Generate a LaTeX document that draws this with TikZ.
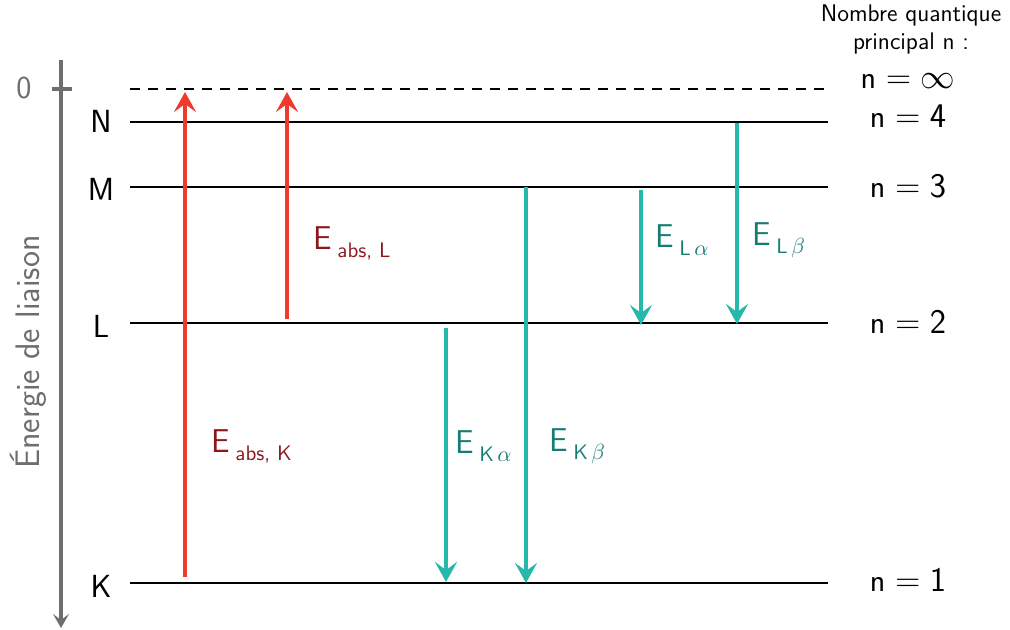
\documentclass[tikz,border=0pt]{standalone}
\usetikzlibrary{arrows.meta}
\renewcommand{\familydefault}{\sfdefault}
\definecolor{absred}{RGB}{239,59,44}
\definecolor{absdark}{RGB}{140,24,30}
\definecolor{emteal}{RGB}{38,184,170}
\definecolor{emdark}{RGB}{22,125,115}
\definecolor{axgray}{RGB}{110,110,110}
\tikzset{
  level/.style={line width=1.1pt, black},
  lvlname/.style={font=\fontsize{16}{18}\selectfont, anchor=center},
  nlabel/.style={font=\fontsize{16}{18}\selectfont, anchor=center, inner sep=0pt},
  toplab/.style={font=\fontsize{12}{14}\selectfont, anchor=center, inner sep=0pt},
  absarrow/.style={line width=2.3pt, absred, -{Stealth[length=10pt,width=11pt,inset=4pt]}},
  emarrow/.style={line width=2.3pt, emteal, -{Stealth[length=10pt,width=11pt,inset=4pt]}},
  abslab/.style={text=absdark, font=\fontsize{16.5}{18}\selectfont, anchor=west, inner sep=0pt},
  emlab/.style={text=emdark, font=\fontsize{16.5}{18}\selectfont, anchor=west, inner sep=0pt},
  axisline/.style={line width=1.6pt, axgray, -{Stealth[length=7pt,width=8pt,inset=3pt]}},
}
\newcommand{\subtxt}[1]{\raisebox{-0.55ex}{\fontsize{10.5}{12}\selectfont #1}}
\begin{document}
\begin{tikzpicture}[x=0.5pt,y=-0.5pt]
\useasboundingbox (0,0) rectangle (1010,630);
% axis
\coordinate (axtop) at (61,60);
\coordinate (axbot) at (61,628);
\draw[axisline] (axtop) -- (axbot);
\coordinate (tickl) at (52,89);
\coordinate (tickr) at (72,89);
\draw[line width=1.6pt, axgray] (tickl) -- (tickr);
\node[text=axgray, font=\fontsize{16}{18}\selectfont] (zero) at (24,88) {0};
\node[text=axgray, font=\fontsize{17}{19}\selectfont, rotate=90] (energie) at (28,352) {Énergie de liaison};
% levels
\coordinate (infL) at (130,89);  \coordinate (infR) at (828,89);
\coordinate (nL) at (130,122);   \coordinate (nR) at (828,122);
\coordinate (mL) at (130,187);   \coordinate (mR) at (828,187);
\coordinate (lL) at (130,323);   \coordinate (lR) at (828,323);
\coordinate (kL) at (130,583);   \coordinate (kR) at (828,583);
\draw[level, dashed, dash pattern=on 5pt off 4pt] (infL) -- (infR);
\draw[level] (nL) -- (nR);
\draw[level] (mL) -- (mR);
\draw[level] (lL) -- (lR);
\draw[level] (kL) -- (kR);
\node[lvlname] (N) at (101,121) {N};
\node[lvlname] (M) at (101,189) {M};
\node[lvlname] (L) at (101,326) {L};
\node[lvlname] (K) at (101,586) {K};
% right labels
\node[toplab] (nq1) at (911,16) {Nombre quantique};
\node[toplab] (nq2) at (911,44) {principal n :};
\node[nlabel] (ninf) at (908,81) {n $=\infty$};
\node[nlabel] (n4) at (908,116) {n $=\mathsf{4}$};
\node[nlabel] (n3) at (908,186) {n $=\mathsf{3}$};
\node[nlabel] (n2) at (908,322) {n $=\mathsf{2}$};
\node[nlabel] (n1) at (908,580) {n $=\mathsf{1}$};
% absorption arrows
\coordinate (aK0) at (185,577);  \coordinate (aK1) at (185,92);
\coordinate (aL0) at (287,319);  \coordinate (aL1) at (287,92);
\draw[absarrow] (aK0) -- (aK1);
\draw[absarrow] (aL0) -- (aL1);
\node[abslab] (eabsL) at (313,243) {E\,\subtxt{abs, L}};
\node[abslab] (eabsK) at (211,446) {E\,\subtxt{abs, K}};
% emission arrows
\coordinate (ka0) at (446,328);  \coordinate (ka1) at (446,582);
\coordinate (kb0) at (526,187);  \coordinate (kb1) at (526,583);
\coordinate (la0) at (641,190);  \coordinate (la1) at (641,325);
\coordinate (lb0) at (737,123);  \coordinate (lb1) at (737,324);
\draw[emarrow] (ka0) -- (ka1);
\draw[emarrow] (kb0) -- (kb1);
\draw[emarrow] (la0) -- (la1);
\draw[emarrow] (lb0) -- (lb1);
\node[emlab] (eKa) at (455,446) {E\,\subtxt{K\,$\alpha$}};
\node[emlab] (eKb) at (549,446) {E\,\subtxt{K\,$\beta$}};
\node[emlab] (eLa) at (655,240) {E\,\subtxt{L\,$\alpha$}};
\node[emlab] (eLb) at (752,240) {E\,\subtxt{L\,$\beta$}};
\end{tikzpicture}
\end{document}
